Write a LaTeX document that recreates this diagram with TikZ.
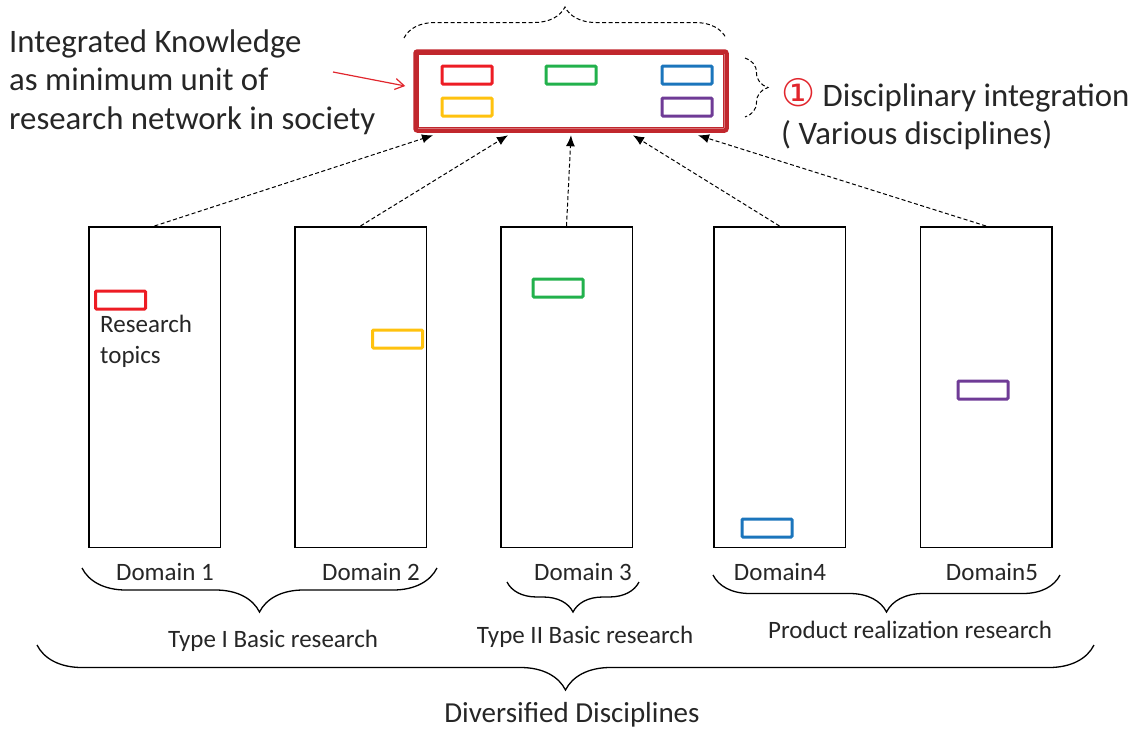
\documentclass[tikz,border=0pt]{standalone}
\usepackage{fontspec}
\setmainfont{Carlito}
\newfontfamily\symfont{DejaVu Sans}
\usepackage{xcolor}
\usepackage{tikz}
\usetikzlibrary{arrows.meta,calc,decorations.pathreplacing}

\definecolor{txtgray}{HTML}{262626}
\definecolor{frame}{HTML}{C1272D}
\definecolor{numred}{HTML}{E1262D}
\definecolor{tred}{HTML}{ED1C24}
\definecolor{tgreen}{HTML}{22B14C}
\definecolor{tblue}{HTML}{1B75BC}
\definecolor{tyellow}{HTML}{FFC20E}
\definecolor{tpurple}{HTML}{6F3B96}

\begin{document}
\begin{tikzpicture}[x=1pt,y=-1pt,
  domainbox/.style={draw=black,line width=1.5pt,minimum width=131.5pt,minimum height=320.5pt,inner sep=0pt},
  topic/.style={draw=#1,line width=3pt,rounded corners=1pt,minimum width=50pt,minimum height=18pt,inner sep=0pt},
  small/.style={text=txtgray,font=\fontsize{25}{31}\selectfont,inner sep=0pt,align=left},
  big/.style={text=txtgray,font=\fontsize{32.8}{38.5}\selectfont,inner sep=0pt,align=left},
  feed/.style={line width=1pt,dash pattern=on 4pt off 2.5pt,-{Latex[length=11pt,width=9pt]}},
  curly/.style={decorate,decoration={brace,amplitude=#1},line width=1.3pt},
  dcurly/.style={decorate,decoration={brace,amplitude=#1},line width=1pt,dash pattern=on 4pt off 2.5pt}]
\useasboundingbox (0,0) rectangle (1138,731);

\node[draw=frame,line width=4.5pt,rounded corners=2pt,minimum width=311pt,minimum height=79pt,inner sep=0pt] (integ) at (571,91) {};
\draw[frame,line width=1pt] ($(integ.north west)+(5,5)$) rectangle ($(integ.south east)+(-5,-5)$);
\node[topic=tred] (kred) at (467,75) {};
\node[topic=tgreen] (kgreen) at (571,75) {};
\node[topic=tblue] (kblue) at (687,75) {};
\node[topic=tyellow] (kyellow) at (467,107) {};
\node[topic=tpurple] (kpurple) at (687,107) {};

\node[big,anchor=west] (knowledge) at (9,82) {Integrated Knowledge\\as minimum unit of\\research network in society};
\node[big,anchor=west] (integtxt) at (781,114) {{\symfont\fontsize{38}{38.5}\selectfont\color{numred}①} Disciplinary integration\\( Various disciplines)};
\coordinate (kpoint) at (333,72);
\draw[numred,line width=1.2pt,-{Straight Barb[length=9pt,width=11pt]}] (kpoint) -- ([xshift=-8pt,yshift=5pt]integ.west);

\node[domainbox] (d1) at (154.5,387) {};
\node[domainbox] (d2) at (360.5,387) {};
\node[domainbox] (d3) at (566.5,387) {};
\node[domainbox] (d4) at (779.5,387) {};
\node[domainbox] (d5) at (986,387) {};

\node[topic=tred] (tp1) at (120.5,300) {};
\node[topic=tyellow] (tp2) at (397.5,339) {};
\node[topic=tgreen] (tp3) at (558,288) {};
\node[topic=tblue] (tp4) at (767,528) {};
\node[topic=tpurple] (tp5) at (983,390) {};
\node[small,anchor=west] (topics) at (100,341) {Research\\topics};

\draw[feed] (d1.north) -- ([xshift=-138pt,yshift=-2.5pt]integ.south);
\draw[feed] (d2.north) -- ([xshift=-63pt,yshift=-2.5pt]integ.south);
\draw[feed] (d3.north) -- ([yshift=-2.5pt]integ.south);
\draw[feed] (d4.north) -- ([xshift=62pt,yshift=-2.5pt]integ.south);
\draw[feed] (d5.north) -- ([xshift=127pt,yshift=-2.5pt]integ.south);

\draw[dcurly=31pt] (404,38) -- (726,38);
\draw[dcurly=23pt] (745,58) -- (745,117);

\node[small] (dom1) at (165,572) {Domain 1};
\node[small] (dom2) at (371,572) {Domain 2};
\node[small] (dom3) at (583,572) {Domain 3};
\node[small] (dom4) at (780,572) {Domain4};
\node[small] (dom5) at (992,572) {Domain5};

\draw[curly=44pt] (437,568) -- (82,568);
\draw[curly=30pt] (639,582) -- (507,582);
\draw[curly=37pt] (1060,575) -- (713,575);
\draw[curly=45pt] (1094,645) -- (37,645);

\node[small] (type1) at (273,641) {Type I Basic research};
\node[small] (type2) at (585,637) {Type II Basic research};
\node[small] (product) at (910,630) {Product realization research};
\node[small,font=\fontsize{29}{35}\selectfont] (diverse) at (572,715) {Diversified Disciplines};
\end{tikzpicture}
\end{document}
